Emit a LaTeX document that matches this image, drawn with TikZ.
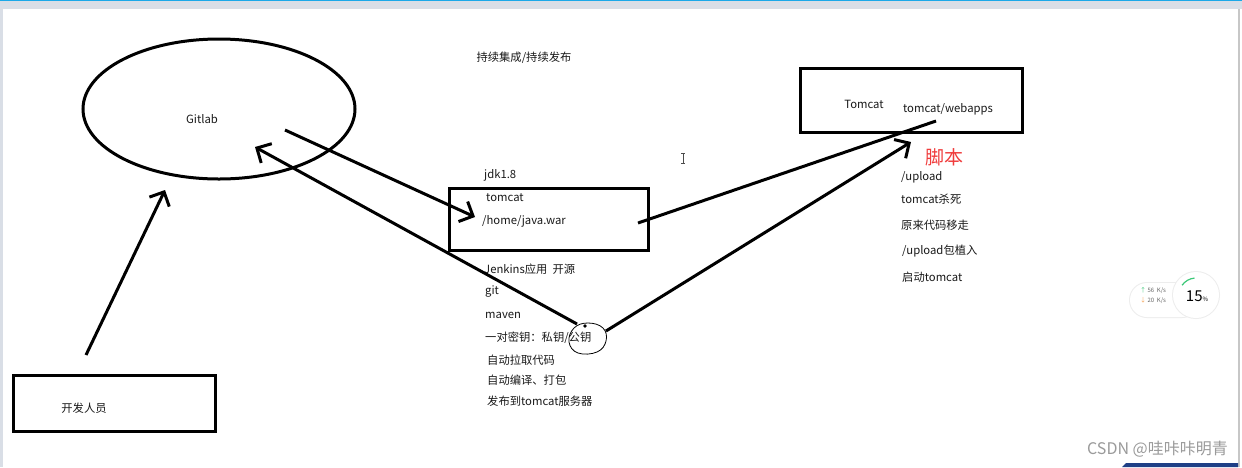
\documentclass[tikz,border=0pt]{standalone}
\usepackage{fontspec}
\setmainfont{Noto Sans CJK SC}
\usetikzlibrary{arrows.meta,shapes.geometric}
\definecolor{topcyan}{HTML}{1BA8E8}
\definecolor{framegray}{HTML}{D9DEE6}
\definecolor{wmgray}{HTML}{9A9A9A}
\definecolor{redtxt}{HTML}{F03C3C}
\definecolor{upgreen}{HTML}{3CC878}
\definecolor{downorange}{HTML}{F5A050}
\definecolor{barblue}{HTML}{1F3F86}
\tikzset{
  bold/.style={line width=3pt, black},
  arr/.style={bold, -{Straight Barb[length=11pt,width=22pt,line width=3pt]}},
  txt/.style={font=\fontsize{11.3}{13}\selectfont, anchor=west, inner sep=0pt, text=black!90},
  ctxt/.style={font=\fontsize{11.3}{13}\selectfont, inner sep=0pt, text=black!90},
}
\begin{document}
\begin{tikzpicture}[x=1pt,y=-1pt]
\useasboundingbox (0,0) rectangle (1242,467);
\fill[white] (0,0) rectangle (1242,467);
% screenshot frame
\fill[framegray] (0,0) rectangle (1242,9);
\fill[framegray] (0,0) rectangle (2.5,467);
\fill[topcyan] (0,0) rectangle (1242,1.2);
\fill[black!22] (1237.5,9) rectangle (1240,467);
\fill[barblue] (1126,463) -- (1238,463) -- (1238,467) -- (1122,467) -- cycle;

% Gitlab ellipse
\node[draw, bold, ellipse, minimum width=272pt, minimum height=140pt, inner sep=0pt] (gitlabshape) at (219,109) {};
\node[ctxt] (gitlab) at (202,119) {Gitlab};

% title
\node[ctxt] (title) at (524,58) {持续集成/持续发布};

% developer box
\node[draw, bold, minimum width=202pt, minimum height=56pt, inner sep=0pt] (devbox) at (114.5,403) {};
\node[ctxt] (dev) at (84,408) {开发人员};

% middle server box
\node[draw, bold, minimum width=199pt, minimum height=62pt, inner sep=0pt] (midbox) at (549,219.5) {};
\node[txt] (jdk) at (484,175) {jdk1.8};
\node[txt] (mtomcat) at (486,198) {tomcat};
\node[txt] (war) at (482,221) {/home/java.war};

\node[txt] (jenkins) at (484,269) {Jenkins应用\ \ 开源};
\node[txt] (git) at (485,292) {git};
\node[txt] (maven) at (485,315) {maven};
\node[txt] (keys) at (485,338) {一对密钥：私钥/公钥};
\node[txt] (pull) at (487,360) {自动拉取代码};
\node[txt] (build) at (487,380) {自动编译、打包};
\node[txt] (deploy) at (487,401) {发布到tomcat服务器};

% hand loop round the public key
\draw[line width=0.8pt, black] plot[smooth cycle, tension=0.7] coordinates {(588,323) (574,328) (569,342) (578,353) (597,352) (606,341) (603,328)};
\fill (585,326) circle (1.8pt);

% Tomcat box
\node[draw, bold, minimum width=222pt, minimum height=64pt, inner sep=0pt] (tomcatbox) at (911.5,100.5) {};
\node[ctxt] (tomcat) at (864,104) {Tomcat};
\node[ctxt] (webapps) at (948,109) {tomcat/webapps};

% script notes
\node[txt, font=\fontsize{19}{21}\selectfont, text=redtxt] (script) at (925,157) {脚本};
\node[txt] (upload) at (901,177) {/upload};
\node[txt] (kill) at (901,199) {tomcat杀死};
\node[txt] (move) at (901,225) {原来代码移走};
\node[txt] (plant) at (902,251) {/upload包植入};
\node[txt] (start) at (902,277) {启动tomcat};

% connector ends
\coordinate (devtop) at (86,355);
\coordinate (gitlabin) at (165,190);
\coordinate (gitlabout) at (285,130);
\coordinate (warin) at (475,217);
\coordinate (keytl) at (577,324);
\coordinate (gitlabret) at (255,147);
\coordinate (warout) at (638,223);
\coordinate (webin) at (936,121);
\coordinate (keyr) at (606,331);
\coordinate (tomcatin) at (911,142);

\draw[arr] (devtop) -- (gitlabin);
\draw[arr] (gitlabout) -- (warin);
\draw[arr] (keytl) -- (gitlabret);
\draw[bold] (warout) -- (webin);
\draw[arr] (keyr) -- (tomcatin);

% text cursor
\draw[black!70, line width=0.7pt] (683,153) -- (683,163) (681,153) -- (685,153) (681,163) -- (685,163);

% network widget
\fill[black!7, rounded corners=18pt] (1129,282) rectangle (1200,318);
\fill[white, rounded corners=17pt] (1130,283) rectangle (1199,317);
\fill[black!7] (1196,295) circle (24);
\fill[white] (1196,295) circle (23);
\draw[upgreen, line width=1.2pt] (1196,295) ++(215:17) arc (215:265:17);
\node[font=\fontsize{6}{7}\selectfont, anchor=west, inner sep=0pt, text=black!60] (up) at (1140,290) {\textcolor{upgreen}{↑} 56\ \ K/s};
\node[font=\fontsize{6}{7}\selectfont, anchor=west, inner sep=0pt, text=black!60] (down) at (1140,301) {\textcolor{downorange}{↓} 20\ \ K/s};
\node[inner sep=0pt, text=black] (pct) at (1197,296) {\fontsize{15}{16}\selectfont 15\fontsize{6}{7}\selectfont\%};

% watermark
\node[anchor=east, inner sep=0pt, font=\fontsize{16}{18}\selectfont, text=wmgray] (wm) at (1228,449) {CSDN @哇咔咔明青};
\end{tikzpicture}
\end{document}
